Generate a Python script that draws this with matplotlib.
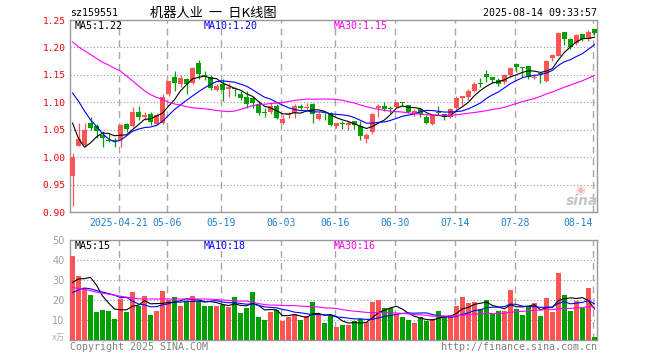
import numpy as np
import pandas as pd
import matplotlib
matplotlib.use('Agg')
from matplotlib import pyplot as plt

plt.rcParams['font.family'] = ['DejaVu Sans Mono', 'Noto Sans CJK SC', 'DejaVu Sans']

code = 'sz159551'
title = '机器人业  一  日K线图'
stamp = '2025-08-14 09:33:57'

holidays = ['2025-05-01', '2025-05-02', '2025-05-05', '2025-06-02']
days = pd.bdate_range('2025-04-09', '2025-08-14')
days = days[~days.isin(pd.to_datetime(holidays))]

open_ = [0.965, 1.021, 1.022, 1.062, 1.057, 1.040, 1.030, 1.030, 1.031, 1.060,
         1.056, 1.083, 1.074, 1.078, 1.061, 1.062, 1.115, 1.147, 1.133, 1.142,
         1.136, 1.172, 1.150, 1.146, 1.123, 1.134, 1.125, 1.126, 1.116, 1.109,
         1.107, 1.097, 1.082, 1.083, 1.093, 1.062, 1.077, 1.080, 1.094, 1.090,
         1.096, 1.070, 1.081, 1.080, 1.056, 1.062, 1.058, 1.065, 1.056, 1.033,
         1.045, 1.089, 1.093, 1.088, 1.092, 1.099, 1.095, 1.078, 1.087, 1.074,
         1.061, 1.081, 1.078, 1.074, 1.089, 1.108, 1.109, 1.121, 1.135, 1.151,
         1.146, 1.140, 1.137, 1.150, 1.170, 1.164, 1.166, 1.144, 1.152, 1.139,
         1.180, 1.185, 1.228, 1.216, 1.208, 1.224, 1.216, 1.233]
high = [1.007, 1.062, 1.062, 1.074, 1.060, 1.048, 1.043, 1.034, 1.060, 1.062,
        1.091, 1.094, 1.083, 1.083, 1.080, 1.116, 1.139, 1.157, 1.149, 1.145,
        1.164, 1.177, 1.157, 1.150, 1.134, 1.142, 1.136, 1.127, 1.120, 1.120,
        1.111, 1.102, 1.090, 1.099, 1.096, 1.077, 1.082, 1.097, 1.096, 1.099,
        1.098, 1.083, 1.083, 1.082, 1.063, 1.065, 1.065, 1.066, 1.065, 1.044,
        1.080, 1.096, 1.101, 1.094, 1.101, 1.101, 1.095, 1.087, 1.089, 1.076,
        1.076, 1.094, 1.078, 1.089, 1.112, 1.112, 1.124, 1.137, 1.144, 1.158,
        1.146, 1.144, 1.151, 1.164, 1.172, 1.164, 1.167, 1.152, 1.156, 1.177,
        1.188, 1.228, 1.229, 1.218, 1.224, 1.225, 1.232, 1.234]
low = [0.911, 1.020, 1.020, 1.050, 1.034, 1.019, 1.027, 1.019, 1.019, 1.045,
       1.055, 1.068, 1.068, 1.059, 1.059, 1.060, 1.111, 1.120, 1.128, 1.116,
       1.134, 1.143, 1.140, 1.122, 1.120, 1.103, 1.109, 1.111, 1.105, 1.090,
       1.090, 1.077, 1.074, 1.079, 1.070, 1.060, 1.071, 1.071, 1.086, 1.086,
       1.062, 1.068, 1.068, 1.057, 1.053, 1.051, 1.050, 1.051, 1.032, 1.025,
       1.043, 1.073, 1.084, 1.081, 1.091, 1.094, 1.080, 1.075, 1.074, 1.060,
       1.059, 1.077, 1.068, 1.071, 1.087, 1.095, 1.104, 1.119, 1.127, 1.137,
       1.135, 1.130, 1.134, 1.146, 1.156, 1.147, 1.143, 1.142, 1.135, 1.137,
       1.175, 1.184, 1.205, 1.197, 1.204, 1.212, 1.211, 1.223]
close = [1.000, 1.033, 1.050, 1.054, 1.048, 1.035, 1.029, 1.029, 1.059, 1.051,
         1.083, 1.074, 1.077, 1.064, 1.077, 1.109, 1.138, 1.136, 1.144, 1.134,
         1.162, 1.151, 1.148, 1.126, 1.129, 1.122, 1.127, 1.124, 1.108, 1.096,
         1.099, 1.080, 1.081, 1.093, 1.071, 1.070, 1.078, 1.093, 1.089, 1.091,
         1.079, 1.079, 1.080, 1.059, 1.062, 1.060, 1.063, 1.059, 1.038, 1.041,
         1.079, 1.094, 1.087, 1.087, 1.100, 1.098, 1.082, 1.084, 1.078, 1.063,
         1.076, 1.080, 1.074, 1.087, 1.108, 1.111, 1.121, 1.134, 1.134, 1.146,
         1.141, 1.133, 1.150, 1.163, 1.164, 1.163, 1.147, 1.147, 1.151, 1.176,
         1.187, 1.226, 1.216, 1.200, 1.222, 1.216, 1.228, 1.227]
volume = [42.2, 32.2, 26.0, 22.6, 14.2, 15.2, 14.7, 10.7, 20.7, 14.2,
          24.2, 17.2, 22.2, 12.7, 14.7, 24.7, 20.0, 21.6, 17.2, 19.7,
          22.2, 19.7, 17.2, 17.2, 17.2, 17.7, 16.7, 21.7, 13.3, 16.0,
          24.2, 11.6, 10.2, 14.2, 15.2, 9.7, 11.7, 13.0, 10.2, 11.8,
          18.8, 12.7, 8.3, 12.0, 6.7, 7.7, 7.7, 9.7, 10.5, 8.8,
          19.2, 20.2, 16.0, 16.0, 13.0, 11.7, 10.2, 8.3, 11.7, 9.3,
          10.5, 14.7, 11.7, 12.7, 17.2, 21.7, 18.3, 19.2, 15.5, 20.2,
          13.0, 14.7, 14.7, 25.2, 15.5, 12.7, 16.7, 18.3, 12.2, 20.8,
          13.8, 33.7, 22.7, 14.3, 19.3, 16.0, 26.2, 1.7]

# moving averages at the left edge need history before the window
ma5_head = [1.062, 1.034, 1.018, 1.026]
ma10_head = [1.117, 1.102, 1.084, 1.068, 1.056, 1.043, 1.033, 1.028, 1.031]
ma30_head = [1.210, 1.201, 1.194, 1.187, 1.180, 1.173, 1.168, 1.162, 1.157, 1.148,
             1.139, 1.130, 1.121, 1.114, 1.109, 1.105, 1.100, 1.097, 1.095, 1.092,
             1.090, 1.089, 1.088, 1.087, 1.085, 1.084, 1.083, 1.084, 1.087]
vma5_head = [28.8, 30.5, 30.7, 31.3]
vma10_head = [23.8, 25.0, 26.0, 25.6, 24.7, 24.0, 23.2, 22.4, 21.2]
vma30_head = [26.3, 25.7, 25.2, 24.7, 23.9, 23.4, 22.9, 22.4, 21.9, 21.4,
              21.0, 20.6, 20.5, 20.5, 20.5, 20.5, 20.5, 20.5, 20.5, 20.5,
              20.5, 20.5, 20.5, 20.4, 20.2, 20.0, 19.8, 19.6, 19.4]

price_ticks = [0.90, 0.95, 1.00, 1.05, 1.10, 1.15, 1.20, 1.25]
vol_ticks = [10, 20, 30, 40, 50]
tick_dates = ['2025-04-21', '2025-05-06', '2025-05-19', '2025-06-03', '2025-06-16',
              '2025-06-30', '2025-07-14', '2025-07-28', '2025-08-14']
tick_labels = ['2025-04-21', '05-06', '05-19', '06-03', '06-16',
               '06-30', '07-14', '07-28', '08-14']
ma_labels = ['MA5:1.22', 'MA10:1.20', 'MA30:1.15']
vol_ma_labels = ['MA5:15', 'MA10:18', 'MA30:16']

RED = '#ff5454'
GREEN = '#00a000'
MA_COLORS = ['black', '#0000ff', '#ff00ff']
GRID = '#a8a8a8'
TICK_BLUE = '#1c80d0'
W, H = 660, 360


def moving(values, n, head):
    out = pd.Series(values).rolling(n).mean().to_numpy()
    out[:len(head)] = head
    return out


def px(x, y):
    return x / W, 1 - y / H


o = np.array(open_)
c = np.array(close)
x = np.arange(len(days))
colors = np.where(c >= o, RED, GREEN)
ticks = [days.get_loc(pd.Timestamp(d)) - 0.3 for d in tick_dates]

fig = plt.figure(figsize=(W / 100, H / 100), dpi=100)
ax = fig.add_axes([70 / W, 1 - 212 / H, 527 / W, 192 / H])
axv = fig.add_axes([70 / W, 1 - 340 / H, 527 / W, 100 / H])

# candles
ax.vlines(x, low, high, colors=colors, linewidth=0.9, zorder=2)
body = np.maximum(np.abs(c - o), 0.0018)
ax.bar(x, body, bottom=np.minimum(o, c), width=0.78, color=colors, linewidth=0, zorder=3)
for (n, head), col in zip([(5, ma5_head), (10, ma10_head), (30, ma30_head)], MA_COLORS):
    ax.plot(x, moving(close, n, head), color=col, lw=0.8, zorder=4)

# volume
axv.bar(x, volume, width=0.8, color=colors, linewidth=0, zorder=3)
for (n, head), col in zip([(5, vma5_head), (10, vma10_head), (30, vma30_head)], MA_COLORS):
    axv.plot(x, moving(volume, n, head), color=col, lw=0.8, zorder=4)

for a in (ax, axv):
    a.set_xlim(-0.42, len(days) - 0.58)
    for t in ticks:
        a.axvline(t, color=GRID, lw=1, ls=(0, (5, 3.5)), zorder=1)
    for s in a.spines.values():
        s.set_color('#999999')
        s.set_linewidth(1)
    a.tick_params(length=0)

ax.set_ylim(price_ticks[0], price_ticks[-1])
for v in price_ticks[1:-1]:
    ax.axhline(v, color='#999999', lw=0.8, ls=(0, (1, 2)), zorder=1)
ax.set_yticks(price_ticks)
ax.set_yticklabels([f'{v:.2f}' for v in price_ticks], color='#ee0000', fontsize=6.8)
ax.tick_params(axis='y', pad=3)
ax.set_xticks(ticks)
ax.set_xticklabels(tick_labels, color=TICK_BLUE, fontsize=7)
ax.tick_params(axis='x', pad=4)
ax.get_xticklabels()[-1].set_horizontalalignment('right')

axv.set_ylim(0, vol_ticks[-1])
for v in vol_ticks[:-1]:
    axv.axhline(v, color='#999999', lw=0.8, ls=(0, (1, 2)), zorder=1)
axv.set_yticks(vol_ticks)
axv.set_yticklabels([str(v) for v in vol_ticks], color='#a0a0a0', fontsize=7,
                    family='DejaVu Sans')
axv.tick_params(axis='y', pad=4)
axv.set_xticks([])

# texts
fig.text(*px(70, 13), code, fontsize=7.2, va='center', ha='left')
fig.text(*px(213, 13), title, fontsize=9.5, va='center', ha='center',
         family=['Noto Sans CJK SC', 'DejaVu Sans'])
fig.text(*px(597, 13), stamp, fontsize=7.2, va='center', ha='right')
for lab, col, xx in zip(ma_labels, MA_COLORS, [75, 204, 334]):
    fig.text(*px(xx, 26), lab, color=col, fontsize=7.2, va='center', ha='left')
for lab, col, xx in zip(vol_ma_labels, MA_COLORS, [75, 204, 334]):
    fig.text(*px(xx, 246), lab, color=col, fontsize=7.2, va='center', ha='left')
fig.text(*px(65, 337), 'x万', color='#b0b0b0', fontsize=6, va='center', ha='right',
         family=['DejaVu Sans', 'Noto Sans CJK SC'])
fig.text(*px(70, 347), 'Copyright 2025 SINA.COM', color='#808080', fontsize=7.2,
         va='center', ha='left')
fig.text(*px(597, 347), 'http://finance.sina.com.cn', color='#808080', fontsize=7.2,
         va='center', ha='right')

# sina watermark
fig.text(*px(582, 201), 'sina', color='#c4c4c4', fontsize=10, fontweight='bold',
         style='italic', va='center', ha='center', family='DejaVu Sans')
fig.text(*px(580, 190), '◉', color='#f4b8b8', fontsize=8, va='center', ha='center',
         family='DejaVu Sans')

fig.savefig('out.png', dpi=100)
